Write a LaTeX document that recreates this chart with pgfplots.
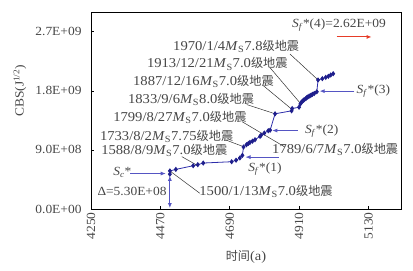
\documentclass[border=0pt]{standalone}
\usepackage{fontspec}
\setmainfont{Liberation Serif}[FakeStretch=1.08]
\newfontfamily\cjk{Noto Sans CJK SC}[Scale=0.9]
\usepackage{pgfplots}
\pgfplotsset{compat=1.18}
\usetikzlibrary{arrows.meta}
\definecolor{txt}{RGB}{70,70,70}
\definecolor{navy}{RGB}{30,30,140}
\definecolor{lineblue}{RGB}{45,45,170}
\definecolor{lblue}{RGB}{85,85,195}
\definecolor{redarr}{RGB}{230,60,40}
\newcommand{\Ms}{\textit{M}\textsubscript{S}}
\newcommand{\jdz}{{\cjk 级地震}}
\newcommand{\Sf}{\textit{S}\textsubscript{\textit{f}}*}
\tikzset{ev/.style={anchor=west, text=txt, inner sep=0, font=\fontsize{13.6}{15}\selectfont}}
\begin{document}
\begin{tikzpicture}[x=1bp,y=1bp]
\useasboundingbox (0,0) rectangle (413,271);
\begin{axis}[at={(91bp,62bp)}, anchor=south west, width=310bp, height=197bp, scale only axis,
 xmin=4250, xmax=5233, ymin=0, ymax=30,
 xtick={4250,4470,4690,4910,5130}, xticklabels={4250,4470,4690,4910,5130},
 ytick={0,9,18,27}, yticklabels={0.0E+00,9.0E+08,1.8E+09,2.7E+09},
 tick align=inside, major tick length=3bp, tick style={black, line width=0.6bp},
 xtick pos=bottom, ytick pos=left,
 xticklabel style={rotate=90, anchor=east, text=txt},
 yticklabel style={text=txt, xshift=-6bp},
 clip=false, axis line style={black, line width=0.8bp},
 font=\fontsize{12.5}{14}\selectfont,
 xlabel={{\cjk 时间}(a)}, ylabel={CBS(J\textsuperscript{1/2})},
 xlabel style={at={(axis description cs:0.5,-0.242)}, anchor=center, text=txt, font=\fontsize{13.5}{15}\selectfont},
 ylabel style={at={(axis description cs:-0.229,0.6)}, anchor=center, rotate=0, text=txt},
]
\addplot[line width=0.8bp, color=lineblue, mark=diamond*, mark size=2bp, mark options={fill=navy, draw=navy}] coordinates {
(4500.0,5.30) (4500.2,5.80) (4519,6.03) (4574,6.59) (4588.6,6.75) (4606,7.00)
(4696,7.20) (4710,7.43) (4722,7.77) (4730,8.16) (4733.6,9.44) (4743,9.79)
(4749,9.98) (4754,10.14) (4762,10.33) (4770,10.55) (4786,11.06) (4789.4,11.24)
(4799.6,11.57) (4812,11.92) (4818,12.00) (4833.7,14.50) (4886,14.95) (4888,15.30)
(4909.7,15.50) (4913.97,16.00) (4917,16.25) (4920,16.40) (4923.3,16.55) (4926,16.65)
(4931,16.80) (4934,16.95) (4937.3,17.05) (4941,17.15) (4944.6,17.25) (4948,17.35)
(4952,17.45) (4958,17.60) (4966,17.85) (4970,19.65) (4983.6,19.85) (4994.4,20.04)
(5002.6,20.20) (5010,20.40) (5018,20.60)
};
% leader lines
\draw[black!80, line width=0.5bp] (axis cs:4881,23.6) -- (axis cs:4970,19.65);
\draw[black!80, line width=0.5bp] (axis cs:4818,21.5) -- (axis cs:4912,16.2);
\draw[black!80, line width=0.5bp] (axis cs:4796,18.8) -- (axis cs:4889,15.1);
\draw[black!80, line width=0.5bp] (axis cs:4744,15.9) -- (axis cs:4833.7,14.5);
\draw[black!80, line width=0.5bp] (axis cs:4729,13.3) -- (axis cs:4865,9.43);
\draw[black!80, line width=0.5bp] (axis cs:4678,10.5) -- (axis cs:4733.6,9.49);
\draw[black!80, line width=0.5bp] (axis cs:4538,7.97) -- (axis cs:4588.6,6.6);
\draw[black!80, line width=0.5bp] (axis cs:4500,5.8) -- (axis cs:4595,2.4);
% event labels
\node[ev] at (axis cs:4510,24.8) {1970/1/4\Ms7.8\jdz};
\node[ev] at (axis cs:4427,22.1) {1913/12/21\Ms7.0\jdz};
\node[ev] at (axis cs:4383,19.4) {1887/12/16\Ms7.0\jdz};
\node[ev] at (axis cs:4367,16.7) {1833/9/6\Ms8.0\jdz};
\node[ev] at (axis cs:4320,14.0) {1799/8/27\Ms7.0\jdz};
\node[ev] at (axis cs:4278,11.1) {1733/8/2\Ms7.75\jdz};
\node[ev] at (axis cs:4282,8.95) {1588/8/9\Ms7.0\jdz};
\node[ev] at (axis cs:4593,2.63) {1500/1/13\Ms7.0\jdz};
\node[ev] at (axis cs:4824,9.03) {1789/6/7\Ms7.0\jdz};
% S annotations
\draw[lblue, line width=0.8bp, -{Latex[length=5bp,width=4bp]}] (axis cs:5085,17.95) -- (axis cs:4975,17.95);
\draw[lblue, line width=0.8bp, -{Latex[length=5bp,width=4bp]}] (axis cs:4905,11.95) -- (axis cs:4825,11.95);
\draw[lblue, line width=0.8bp, -{Latex[length=5bp,width=4bp]}] (axis cs:4846,7.9) -- (axis cs:4740,7.9);
\draw[lblue, line width=0.8bp, -{Latex[length=5bp,width=4bp]}] (axis cs:4374,5.4) -- (axis cs:4487,5.4);
\draw[lblue, line width=0.8bp, {Latex[length=5bp,width=4bp]}-{Latex[length=5bp,width=4bp]}] (axis cs:4500,0.15) -- (axis cs:4500,5.05);
\draw[redarr, line width=1bp, -{Latex[length=5bp,width=4bp]}] (axis cs:5029,26.2) -- (axis cs:5140,26.2);
\node[anchor=west, text=txt, inner sep=0] at (axis cs:4887,28.05) {\Sf(4)=2.62E+09};
\node[anchor=west, text=txt, inner sep=0] at (axis cs:5092,18.0) {\Sf(3)};
\node[anchor=west, text=txt, inner sep=0] at (axis cs:4928,11.88) {\Sf(2)};
\node[anchor=west, text=txt, inner sep=0] at (axis cs:4748,6.09) {\Sf(1)};
\node[anchor=west, text=txt, inner sep=0] at (axis cs:4320,5.53) {\textit{S}\textsubscript{\textit{c}}*};
\node[anchor=west, text=txt, inner sep=0] at (axis cs:4270,2.68) {Δ=5.30E+08};
\end{axis}
\end{tikzpicture}
\end{document}
